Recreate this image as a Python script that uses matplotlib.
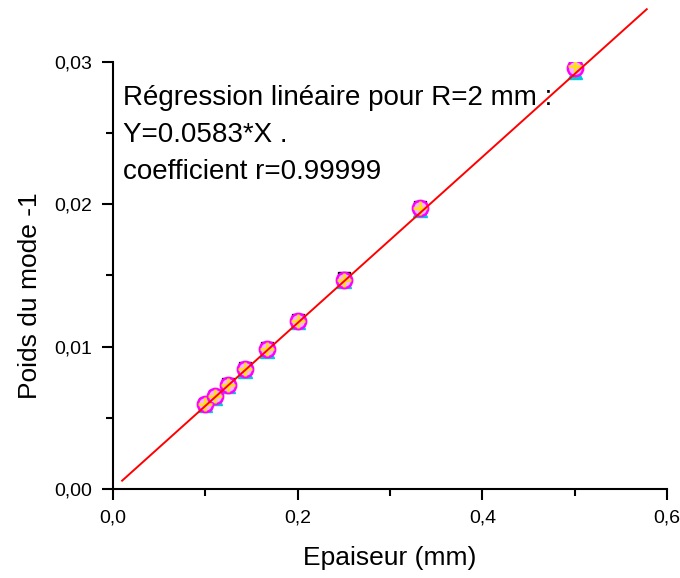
import matplotlib.pyplot as plt
from matplotlib.ticker import MultipleLocator, FuncFormatter

plt.rcParams['font.family'] = ['Liberation Sans', 'DejaVu Sans']

# epaisseurs (mm) et poids du mode -1, plusieurs series superposees
epaisseur = [0.1, 0.111, 0.125, 0.143, 0.167, 0.2, 0.25, 0.333, 0.5]
poids_a = [0.0060, 0.0065, 0.0074, 0.0085, 0.0099, 0.0119, 0.0148, 0.0198, 0.0300]
poids_b = [0.0060, 0.0065, 0.0073, 0.0084, 0.0098, 0.0118, 0.0147, 0.0197, 0.0297]
poids_c = [0.0059, 0.0064, 0.0072, 0.0083, 0.0097, 0.0117, 0.0146, 0.0196, 0.0293]
poids_d = [0.0060, 0.0065, 0.0073, 0.0084, 0.0098, 0.0118, 0.0147, 0.0197, 0.0296]

pente = 0.0583
x_fit = [0.01, 0.578]

fig = plt.figure(figsize=(6.8, 5.78), dpi=100)
ax = fig.add_axes([0.166, 0.154, 0.815, 0.739])

ax.plot(epaisseur, poids_a, 's', color='black', ms=9, zorder=2)
ax.plot(epaisseur, poids_c, '*', color='#2040ff', ms=12, zorder=2)
ax.plot(epaisseur, poids_c, '^', color='#00c8e0', ms=10, zorder=2)
ax.plot(epaisseur, poids_c, 'v', color='#30d040', ms=9, zorder=2)
ax.plot(epaisseur, poids_d, 'o', mfc='#ffb0ff', mec='#ff00ff', mew=1.8, ms=11, zorder=3)
ax.plot(epaisseur, poids_b, '+', color='#ffe600', ms=10, mew=1.8, zorder=4)

ax.plot(x_fit, [pente * v for v in x_fit], color='red', lw=1.4, clip_on=False, zorder=5)

ax.set_xlim(0, 0.6)
ax.set_ylim(0, 0.03)
ax.xaxis.set_major_locator(MultipleLocator(0.2))
ax.xaxis.set_minor_locator(MultipleLocator(0.1))
ax.yaxis.set_major_locator(MultipleLocator(0.01))
ax.yaxis.set_minor_locator(MultipleLocator(0.005))
ax.xaxis.set_major_formatter(FuncFormatter(lambda v, p: f'{v:.1f}'.replace('.', ',')))
ax.yaxis.set_major_formatter(FuncFormatter(lambda v, p: f'{v:.2f}'.replace('.', ',')))

for s in ['top', 'right']:
    ax.spines[s].set_visible(False)
for s in ['left', 'bottom']:
    ax.spines[s].set_linewidth(1.5)
ax.tick_params(which='major', direction='out', length=8, width=1.5, labelsize=14, pad=7)
ax.tick_params(which='minor', direction='out', length=5, width=1.5)

ax.set_xlabel('Epaiseur (mm)', fontsize=19, labelpad=14)
fig.text(0.044, 0.488, 'Poids du mode -1', fontsize=19, rotation=90, ha='center', va='center')

ax.text(0.0105, 0.0284, 'Régression linéaire pour R=2 mm :\nY=0.0583*X .\ncoefficient r=0.99999',
        fontsize=20, va='top', ha='left', linespacing=1.55)

fig.savefig('out.png')
